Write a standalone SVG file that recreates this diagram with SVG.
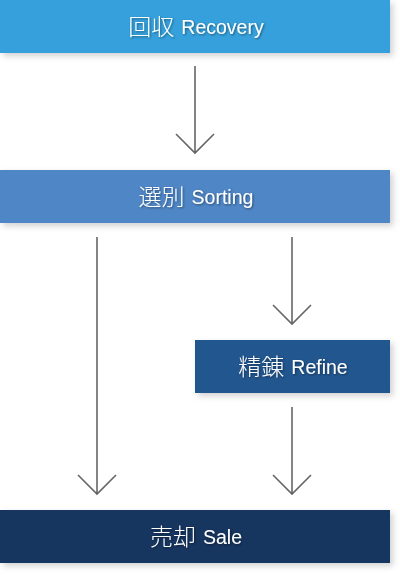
<svg xmlns="http://www.w3.org/2000/svg" width="400" height="575" viewBox="0 0 400 575">
<defs>
<filter id="sh" x="-5%" y="-20%" width="115%" height="150%"><feDropShadow dx="3" dy="3" stdDeviation="3" flood-color="#000" flood-opacity="0.18"/></filter>
<filter id="ts" x="-10%" y="-30%" width="120%" height="160%"><feDropShadow dx="1" dy="1" stdDeviation="1" flood-color="#000" flood-opacity="0.45"/></filter>
</defs>
<style>
.lbl{font-family:"Liberation Sans","Noto Sans CJK JP",sans-serif;font-weight:300;fill:#fff;text-anchor:middle;dominant-baseline:central;filter:url(#ts)}
.j{font-size:23px}.e{font-size:19.5px}
.c{stroke:#666;stroke-width:1.6;fill:none}
</style>
<g id="recovery"><rect x="0" y="0" width="390" height="53" fill="#35a0db" filter="url(#sh)"/><text class="lbl" x="196" y="27"><tspan class="j">回収</tspan><tspan class="e" dx="7">Recovery</tspan></text></g>
<g id="sorting"><rect x="0" y="170" width="390" height="53" fill="#4f86c6" filter="url(#sh)"/><text class="lbl" x="196" y="197"><tspan class="j">選別</tspan><tspan class="e" dx="7">Sorting</tspan></text></g>
<g id="refine"><rect x="195" y="340" width="195" height="53" fill="#22568f" filter="url(#sh)"/><text class="lbl" x="293" y="367"><tspan class="j">精錬</tspan><tspan class="e" dx="7">Refine</tspan></text></g>
<g id="sale"><rect x="0" y="510" width="390" height="53" fill="#14365f" filter="url(#sh)"/><text class="lbl" x="196" y="537"><tspan class="j">売却</tspan><tspan class="e" dx="7">Sale</tspan></text></g>
<g id="connectors">
<path class="c" d="M195 66V153M176 134L195 153L214 134"/>
<path class="c" d="M97 237V494M78 475L97 494L116 475"/>
<path class="c" d="M292 237V324M273 305L292 324L311 305"/>
<path class="c" d="M292 407V494M273 475L292 494L311 475"/>
</g>
</svg>
